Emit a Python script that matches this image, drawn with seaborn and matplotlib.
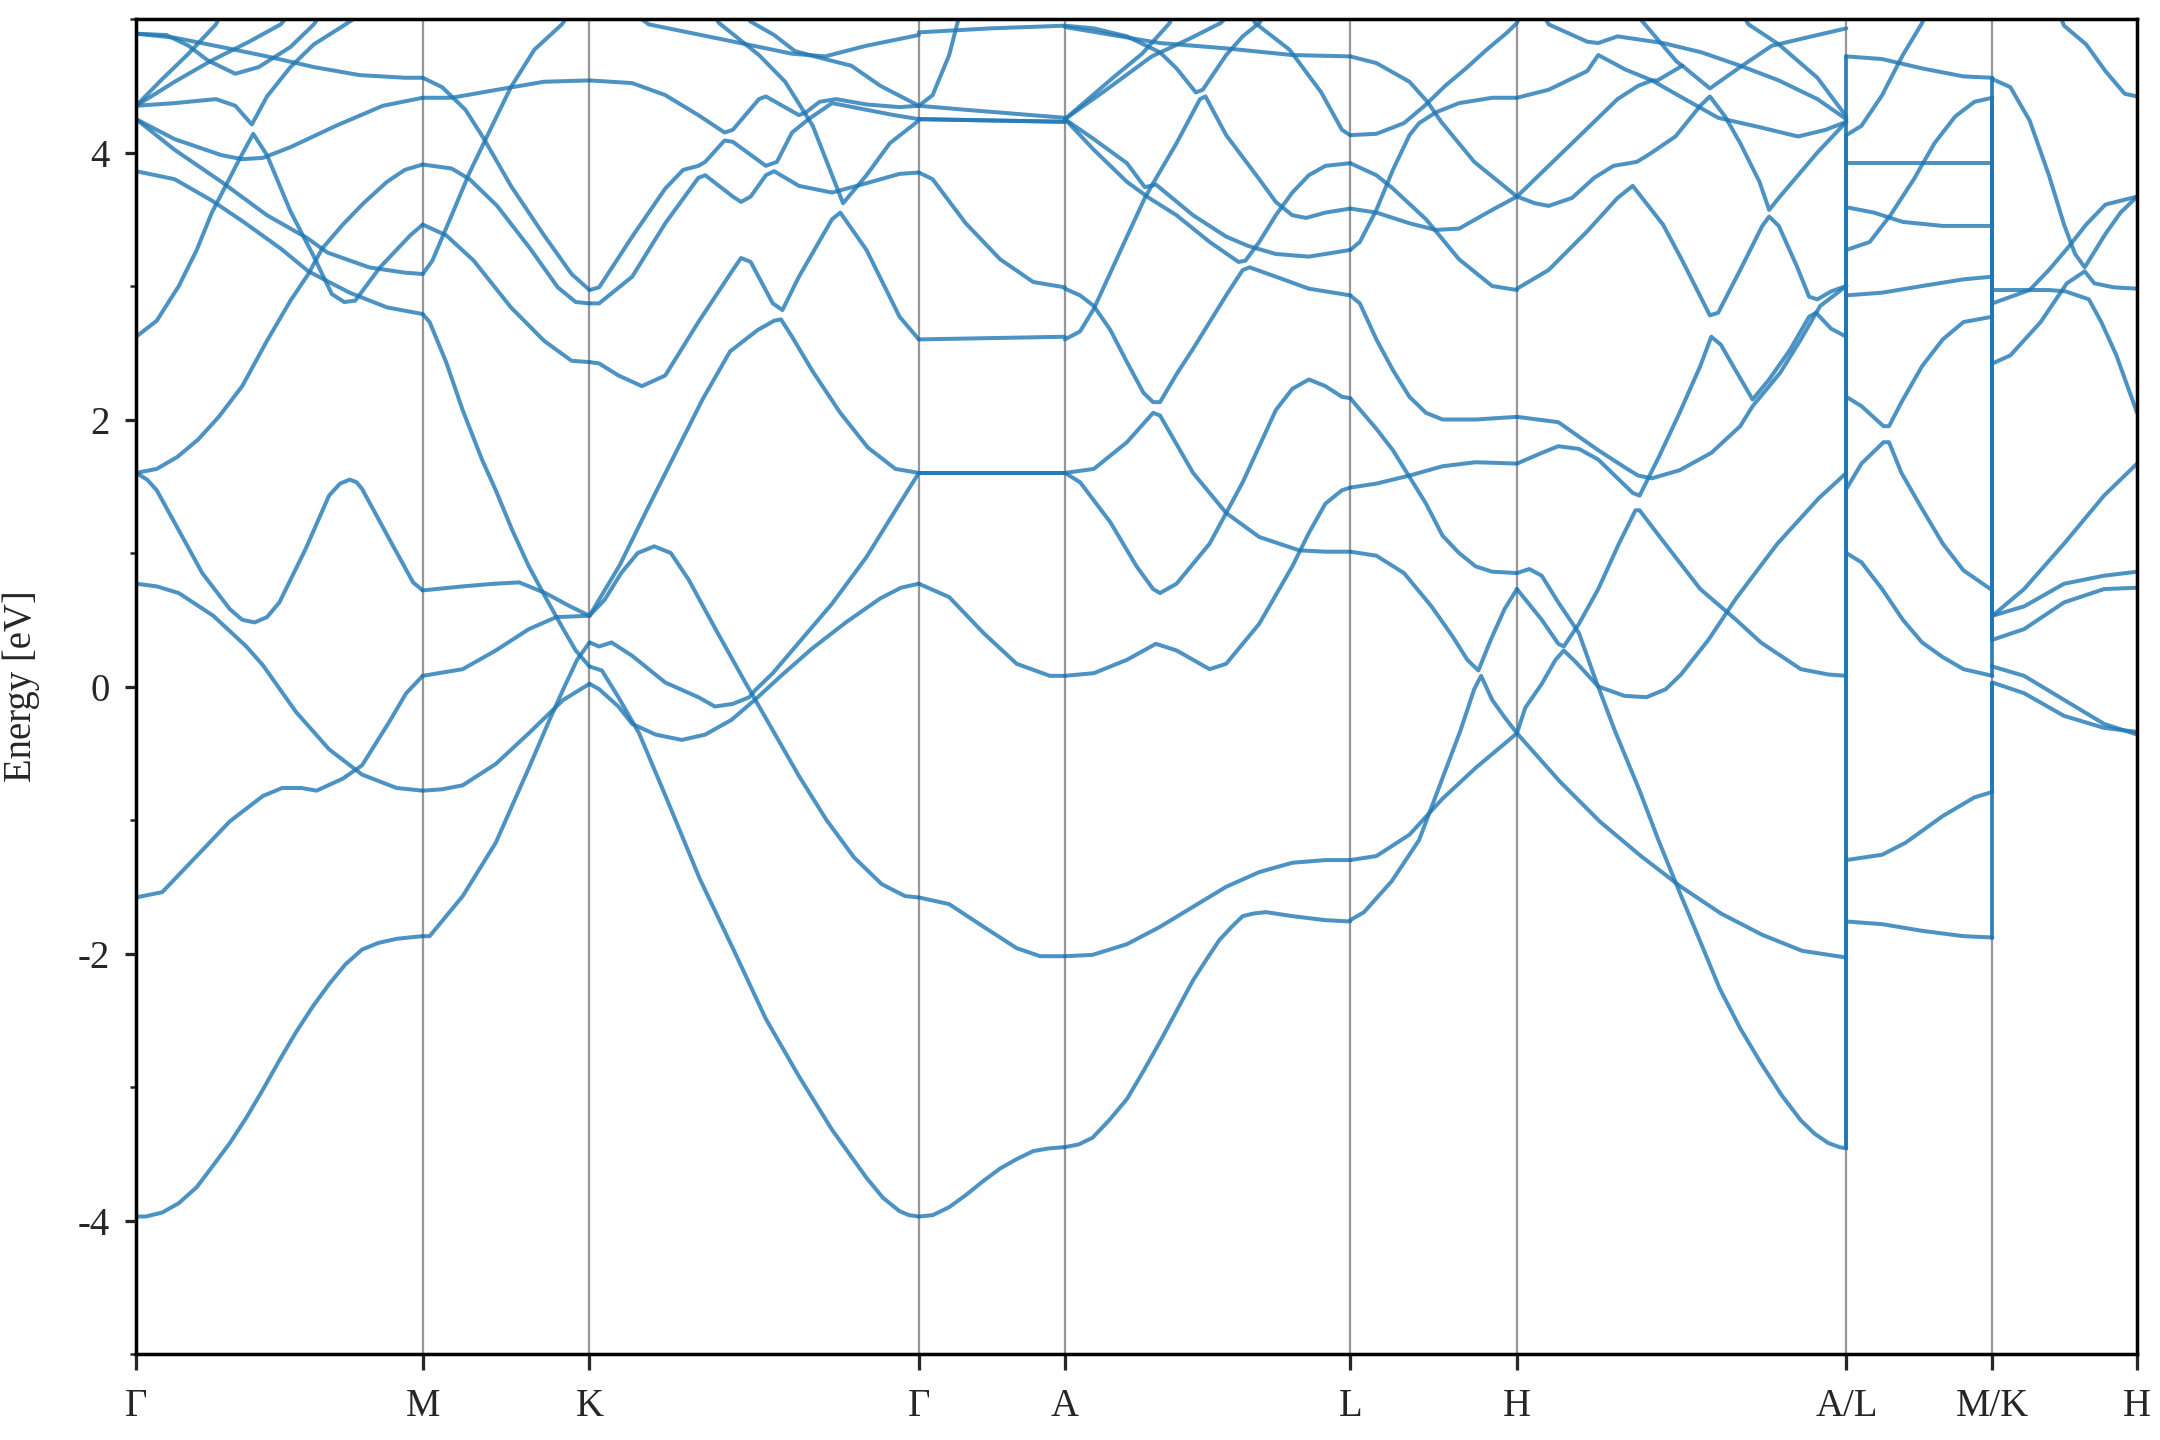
import matplotlib
matplotlib.use("Agg")
import matplotlib.pyplot as plt
import pandas as pd
import seaborn as sns
from matplotlib.ticker import MultipleLocator

sns.set_theme(style="ticks")
plt.rcParams["font.family"] = ["Liberation Serif", "DejaVu Serif"]
plt.rcParams["axes.unicode_minus"] = False

# high-symmetry points (cumulative path length) and their labels
kpath_pos = [0, 208, 329, 568, 674, 881, 1002, 1241, 1347, 1452]
kpath_labels = ["Γ", "M", "K", "Γ", "A", "L", "H", "A/L", "M/K", "H"]

# bands, one list of (k, E) knots per visible line, per segment
seg_GM = [
    [(0, -3.97), (7, -3.97), (19, -3.94), (31, -3.87), (44, -3.75), (55, -3.60), (68, -3.42), (80, -3.23), (92, -3.02), (104, -2.80), (116, -2.59), (128, -2.40), (140, -2.23), (152, -2.08), (164, -1.97), (176, -1.92), (189, -1.89), (198, -1.88), (208, -1.87)],
    [(0, -1.58), (19, -1.54), (44, -1.27), (68, -1.01), (92, -0.82), (106, -0.76), (120, -0.76), (131, -0.78), (150, -0.69), (164, -0.59), (184, -0.26), (196, -0.05), (208, 0.08)],
    [(0, 0.77), (15, 0.75), (31, 0.70), (56, 0.53), (80, 0.30), (92, 0.16), (116, -0.19), (140, -0.47), (164, -0.66), (189, -0.76), (208, -0.78)],
    [(0, 1.6), (8, 1.55), (15, 1.47), (31, 1.17), (48, 0.85), (68, 0.58), (77, 0.50), (86, 0.48), (95, 0.52), (104, 0.63), (123, 1.03), (140, 1.43), (148, 1.52), (155, 1.55), (160, 1.53), (164, 1.48), (184, 1.10), (201, 0.78), (208, 0.72)],
    [(0, 1.6), (15, 1.63), (30, 1.72), (45, 1.85), (60, 2.02), (77, 2.25), (95, 2.59), (112, 2.89), (125, 3.09), (135, 3.28), (150, 3.46), (165, 3.62), (182, 3.78), (195, 3.87), (208, 3.91)],
    [(0, 2.62), (15, 2.74), (31, 3.0), (44, 3.27), (55, 3.55), (75, 3.95), (85, 4.14), (95, 3.98), (112, 3.56), (129, 3.22), (142, 2.94), (151, 2.88), (159, 2.89), (177, 3.14), (199, 3.38), (208, 3.46)],
    [(0, 4.25), (28, 4.02), (62, 3.78), (95, 3.53), (124, 3.36), (139, 3.25), (169, 3.14), (195, 3.10), (208, 3.09)],
    [(0, 3.86), (28, 3.80), (55, 3.64), (78, 3.48), (105, 3.28), (125, 3.11), (155, 2.95), (182, 2.84), (208, 2.79)],
    [(0, 4.25), (28, 4.10), (62, 3.98), (77, 3.95), (92, 3.96), (112, 4.04), (145, 4.20), (179, 4.35), (208, 4.41)],
    [(0, 4.35), (28, 4.37), (58, 4.40), (72, 4.35), (84, 4.21), (95, 4.42), (112, 4.64), (129, 4.81), (152, 4.96), (165, 5.05)],
    [(0, 4.89), (28, 4.86), (62, 4.79), (95, 4.72), (129, 4.64), (162, 4.58), (195, 4.56), (208, 4.56)],
    [(0, 4.89), (22, 4.88), (38, 4.80), (52, 4.69), (72, 4.59), (89, 4.64), (112, 4.79), (129, 4.96), (135, 5.05)],
    [(0, 4.35), (18, 4.54), (38, 4.74), (58, 4.96), (62, 5.05)],
    [(0, 4.35), (28, 4.53), (55, 4.69), (82, 4.83), (105, 4.96), (112, 5.05)],
]

seg_MK = [
    [(208, -1.87), (213, -1.87), (237, -1.57), (261, -1.17), (285, -0.61), (300, -0.25), (310, -0.02), (320, 0.2), (329, 0.33)],
    [(208, -0.78), (222, -0.77), (237, -0.74), (261, -0.58), (285, -0.35), (310, -0.10), (329, 0.02)],
    [(208, 0.08), (237, 0.13), (261, 0.27), (285, 0.43), (305, 0.52), (329, 0.53)],
    [(208, 0.72), (237, 0.75), (260, 0.77), (278, 0.78), (297, 0.70), (315, 0.60), (329, 0.53)],
    [(208, 2.79), (213, 2.73), (225, 2.43), (237, 2.07), (251, 1.70), (261, 1.47), (273, 1.17), (285, 0.90), (297, 0.67), (310, 0.43), (319, 0.27), (329, 0.15)],
    [(208, 3.46), (225, 3.38), (245, 3.19), (272, 2.84), (296, 2.59), (316, 2.44), (329, 2.43)],
    [(208, 3.91), (229, 3.88), (242, 3.80), (262, 3.60), (286, 3.28), (306, 2.99), (319, 2.88), (329, 2.87)],
    [(208, 4.56), (222, 4.49), (239, 4.32), (252, 4.11), (272, 3.75), (296, 3.38), (316, 3.09), (329, 2.97)],
    [(208, 3.09), (215, 3.19), (229, 3.53), (242, 3.85), (256, 4.15), (272, 4.49), (289, 4.77), (309, 4.96), (315, 5.05)],
    [(208, 4.41), (229, 4.41), (262, 4.47), (296, 4.53), (329, 4.54)],
]

seg_KG = [
    [(329, 0.15), (338, 0.12), (350, -0.08), (365, -0.35), (385, -0.84), (409, -1.44), (433, -1.96), (457, -2.49), (481, -2.92), (505, -3.32), (530, -3.68), (542, -3.83), (554, -3.93), (561, -3.96), (568, -3.97)],
    [(329, 0.02), (336, -0.02), (350, -0.15), (360, -0.28), (377, -0.36), (396, -0.40), (413, -0.36), (432, -0.25), (449, -0.10), (468, 0.08), (490, 0.28), (515, 0.48), (540, 0.66), (555, 0.74), (568, 0.77)],
    [(329, 0.33), (336, 0.30), (345, 0.33), (360, 0.23), (384, 0.03), (408, -0.08), (420, -0.15), (433, -0.13), (445, -0.08), (449, -0.03), (462, 0.10), (481, 0.33), (505, 0.62), (530, 0.97), (554, 1.37), (568, 1.6)],
    [(329, 0.53), (340, 0.65), (352, 0.85), (364, 1.0), (376, 1.05), (388, 1.0), (401, 0.8), (421, 0.42), (441, 0.05), (461, -0.31), (481, -0.67), (501, -1.0), (521, -1.28), (541, -1.48), (558, -1.57), (568, -1.58)],
    [(329, 0.53), (351, 0.91), (371, 1.33), (391, 1.74), (411, 2.15), (431, 2.51), (451, 2.67), (463, 2.74), (468, 2.75), (476, 2.62), (491, 2.36), (511, 2.05), (531, 1.79), (551, 1.63), (568, 1.6)],
    [(329, 2.43), (336, 2.42), (350, 2.33), (367, 2.25), (384, 2.33), (408, 2.73), (433, 3.12), (439, 3.21), (446, 3.18), (462, 2.87), (469, 2.82), (481, 3.07), (505, 3.50), (511, 3.55), (530, 3.27), (554, 2.77), (568, 2.6)],
    [(329, 2.87), (336, 2.87), (360, 3.07), (384, 3.47), (408, 3.81), (413, 3.83), (433, 3.67), (439, 3.63), (446, 3.67), (457, 3.83), (463, 3.86), (481, 3.75), (505, 3.70), (530, 3.77), (554, 3.84), (568, 3.85)],
    [(329, 2.97), (336, 2.99), (360, 3.37), (384, 3.73), (397, 3.87), (408, 3.90), (413, 3.93), (427, 4.09), (433, 4.08), (457, 3.90), (465, 3.93), (476, 4.15), (488, 4.25), (505, 4.37), (530, 4.32), (550, 4.28), (568, 4.25)],
    [(329, 4.54), (360, 4.52), (384, 4.43), (408, 4.28), (427, 4.15), (433, 4.17), (452, 4.40), (457, 4.42), (481, 4.28), (486, 4.30), (496, 4.38), (508, 4.40), (530, 4.36), (554, 4.34), (568, 4.35)],
    [(418, 5.05), (423, 4.97), (452, 4.73), (471, 4.53), (491, 4.20), (513, 3.62), (530, 3.83), (547, 4.07), (568, 4.24)],
    [(360, 5.05), (372, 4.96), (429, 4.84), (476, 4.74), (500, 4.72), (530, 4.80), (568, 4.88)],
    [(440, 5.05), (446, 4.98), (463, 4.88), (478, 4.76), (496, 4.71), (519, 4.65), (540, 4.50), (568, 4.35)],
]

seg_GA = [
    [(568, -3.97), (578, -3.96), (590, -3.90), (602, -3.81), (614, -3.71), (627, -3.61), (639, -3.54), (651, -3.48), (662, -3.46), (674, -3.45)],
    [(568, -1.58), (590, -1.63), (615, -1.80), (639, -1.96), (656, -2.02), (674, -2.02)],
    [(568, 0.77), (590, 0.67), (615, 0.40), (639, 0.17), (663, 0.08), (674, 0.08)],
    [(568, 1.6), (674, 1.6)],
    [(568, 1.6), (674, 1.6)],
    [(568, 2.6), (674, 2.62)],
    [(568, 3.85), (578, 3.80), (602, 3.47), (627, 3.20), (651, 3.03), (674, 2.99)],
    [(568, 4.25), (674, 4.23)],
    [(568, 4.25), (674, 4.23)],
    [(568, 4.35), (602, 4.32), (674, 4.26)],
    [(568, 4.35), (578, 4.43), (590, 4.73), (596, 4.97), (598, 5.05)],
    [(568, 4.9), (620, 4.93), (674, 4.95)],
]

seg_AL = [
    [(674, -3.45), (684, -3.43), (694, -3.38), (706, -3.25), (719, -3.09), (731, -2.88), (743, -2.66), (755, -2.43), (767, -2.20), (777, -2.04), (786, -1.90), (795, -1.80), (803, -1.72), (811, -1.70), (820, -1.69), (839, -1.72), (863, -1.75), (881, -1.76)],
    [(674, -2.02), (694, -2.01), (719, -1.93), (743, -1.80), (767, -1.65), (791, -1.50), (815, -1.39), (839, -1.32), (863, -1.30), (881, -1.30)],
    [(674, 0.08), (695, 0.10), (719, 0.20), (740, 0.32), (755, 0.27), (779, 0.13), (791, 0.17), (815, 0.47), (839, 0.90), (851, 1.15), (863, 1.37), (875, 1.47), (881, 1.49)],
    [(674, 1.6), (695, 1.63), (719, 1.83), (738, 2.05), (743, 2.03), (767, 1.6), (791, 1.30), (815, 1.12), (844, 1.02), (863, 1.01), (881, 1.01)],
    [(674, 1.6), (685, 1.53), (707, 1.23), (726, 0.90), (738, 0.73), (743, 0.70), (755, 0.77), (779, 1.07), (803, 1.53), (827, 2.07), (839, 2.23), (851, 2.30), (863, 2.25), (875, 2.17), (881, 2.16)],
    [(674, 2.6), (685, 2.66), (695, 2.83), (707, 3.1), (719, 3.37), (732, 3.66), (738, 3.77), (755, 4.07), (772, 4.40), (776, 4.42), (791, 4.13), (815, 3.80), (827, 3.63), (839, 3.53), (849, 3.51), (863, 3.55), (881, 3.58)],
    [(674, 2.98), (685, 2.93), (695, 2.85), (707, 2.67), (719, 2.43), (731, 2.20), (738, 2.13), (743, 2.13), (755, 2.34), (767, 2.53), (779, 2.73), (791, 2.93), (803, 3.12), (808, 3.14), (827, 3.07), (851, 2.98), (881, 2.93)],
    [(674, 4.25), (695, 4.10), (719, 3.92), (732, 3.74), (740, 3.76), (767, 3.53), (791, 3.37), (807, 3.30), (827, 3.24), (851, 3.22), (881, 3.27)],
    [(674, 4.25), (695, 4.02), (719, 3.78), (735, 3.66), (755, 3.53), (779, 3.33), (800, 3.18), (805, 3.19), (815, 3.33), (827, 3.53), (839, 3.70), (851, 3.83), (863, 3.90), (881, 3.92)],
    [(674, 4.95), (695, 4.93), (719, 4.87), (743, 4.75), (755, 4.63), (769, 4.45), (774, 4.47), (791, 4.73), (803, 4.87), (815, 4.97), (820, 5.05)],
    [(674, 4.94), (743, 4.82), (791, 4.78), (839, 4.73), (881, 4.72)],
    [(808, 5.05), (812, 4.97), (837, 4.77), (860, 4.45), (875, 4.17), (881, 4.13)],
    [(674, 4.25), (692, 4.41), (710, 4.57), (730, 4.74), (750, 4.97), (753, 5.05)],
    [(674, 4.25), (704, 4.47), (737, 4.72), (764, 4.85), (787, 4.97), (795, 5.05)],
]

seg_LH = [
    [(881, -1.75), (891, -1.69), (911, -1.46), (931, -1.15), (946, -0.74), (961, -0.33), (971, -0.02), (976, 0.08), (984, -0.10), (993, -0.23), (1002, -0.35)],
    [(881, -1.30), (900, -1.27), (924, -1.11), (948, -0.84), (972, -0.61), (1002, -0.35)],
    [(881, 1.01), (900, 0.98), (920, 0.85), (940, 0.60), (955, 0.38), (966, 0.20), (974, 0.12), (983, 0.35), (993, 0.58), (1002, 0.73)],
    [(881, 2.16), (900, 1.93), (912, 1.77), (924, 1.57), (936, 1.37), (948, 1.13), (960, 1.0), (972, 0.90), (984, 0.86), (1002, 0.85)],
    [(881, 1.49), (900, 1.52), (924, 1.58), (948, 1.65), (972, 1.68), (1002, 1.67)],
    [(881, 2.93), (888, 2.87), (900, 2.60), (912, 2.37), (924, 2.17), (936, 2.05), (948, 2.00), (972, 2.00), (1002, 2.02)],
    [(881, 3.27), (888, 3.33), (900, 3.57), (912, 3.87), (924, 4.13), (931, 4.22), (943, 4.30), (960, 4.37), (984, 4.41), (1002, 4.41)],
    [(881, 3.58), (900, 3.55), (924, 3.47), (943, 3.42), (960, 3.43), (984, 3.57), (1002, 3.67)],
    [(881, 3.92), (900, 3.83), (912, 3.73), (936, 3.50), (960, 3.20), (984, 3.0), (1002, 2.97)],
    [(881, 4.13), (900, 4.14), (920, 4.22), (935, 4.35), (950, 4.50), (965, 4.63), (980, 4.77), (995, 4.90), (1002, 4.97), (1005, 5.05)],
    [(881, 4.72), (900, 4.67), (924, 4.53), (937, 4.38), (947, 4.23), (971, 3.93), (1002, 3.67)],
]

seg_HA = [
    [(1002, 0.85), (1011, 0.88), (1020, 0.83), (1032, 0.63), (1047, 0.40), (1058, 0.08), (1073, -0.33), (1091, -0.78), (1105, -1.16), (1120, -1.54), (1135, -1.91), (1149, -2.26), (1164, -2.56), (1179, -2.82), (1194, -3.06), (1208, -3.25), (1218, -3.35), (1228, -3.42), (1236, -3.45), (1241, -3.46)],
    [(1002, -0.35), (1033, -0.71), (1062, -1.01), (1092, -1.27), (1121, -1.50), (1150, -1.70), (1180, -1.86), (1209, -1.98), (1241, -2.03)],
    [(1002, -0.35), (1008, -0.16), (1020, 0.02), (1030, 0.20), (1036, 0.27), (1045, 0.18), (1061, 0.0), (1080, -0.07), (1096, -0.08), (1110, -0.02), (1121, 0.09), (1141, 0.35), (1161, 0.66), (1191, 1.07), (1221, 1.41), (1241, 1.6)],
    [(1002, 0.73), (1020, 0.50), (1032, 0.32), (1036, 0.30), (1047, 0.47), (1061, 0.73), (1076, 1.07), (1088, 1.32), (1091, 1.32), (1105, 1.13), (1135, 0.73), (1161, 0.50), (1179, 0.33), (1208, 0.13), (1228, 0.09), (1241, 0.08)],
    [(1002, 1.67), (1020, 1.75), (1032, 1.80), (1047, 1.78), (1061, 1.70), (1076, 1.55), (1086, 1.45), (1091, 1.43), (1105, 1.72), (1120, 2.05), (1135, 2.40), (1143, 2.62), (1150, 2.56), (1160, 2.38), (1173, 2.15), (1185, 2.30), (1200, 2.52), (1214, 2.77), (1219, 2.80), (1230, 2.68), (1241, 2.62)],
    [(1002, 2.02), (1032, 1.98), (1061, 1.77), (1082, 1.63), (1090, 1.58), (1100, 1.56), (1120, 1.62), (1143, 1.75), (1164, 1.95), (1173, 2.10), (1193, 2.35), (1208, 2.60), (1222, 2.85), (1241, 3.0)],
    [(1002, 2.98), (1025, 3.12), (1053, 3.41), (1075, 3.66), (1086, 3.75), (1108, 3.46), (1122, 3.19), (1142, 2.78), (1148, 2.80), (1164, 3.12), (1180, 3.45), (1185, 3.52), (1192, 3.45), (1205, 3.15), (1214, 2.92), (1220, 2.90), (1230, 2.96), (1241, 3.0)],
    [(1002, 3.67), (1015, 3.62), (1025, 3.60), (1042, 3.66), (1058, 3.81), (1072, 3.90), (1089, 3.93), (1097, 3.98), (1117, 4.12), (1135, 4.35), (1142, 4.42), (1153, 4.27), (1164, 4.07), (1178, 3.78), (1185, 3.57), (1192, 3.66), (1206, 3.83), (1220, 4.0), (1241, 4.23)],
    [(1002, 3.67), (1015, 3.80), (1032, 3.97), (1053, 4.18), (1075, 4.40), (1090, 4.50), (1100, 4.54), (1117, 4.44), (1148, 4.26), (1178, 4.19), (1206, 4.12), (1226, 4.17), (1241, 4.23)],
    [(1002, 4.41), (1025, 4.47), (1053, 4.61), (1061, 4.73), (1081, 4.62), (1100, 4.54), (1104, 4.54), (1122, 4.65), (1142, 4.48), (1164, 4.64), (1187, 4.80), (1220, 4.88), (1241, 4.93)],
    [(1020, 5.05), (1025, 4.96), (1053, 4.83), (1061, 4.82), (1075, 4.87), (1108, 4.82), (1136, 4.75), (1164, 4.65), (1192, 4.54), (1220, 4.40), (1241, 4.25)],
    [(1165, 5.05), (1170, 4.96), (1192, 4.81), (1220, 4.56), (1241, 4.27)],
    [(1088, 5.05), (1094, 4.97), (1108, 4.80), (1118, 4.68), (1122, 4.65)],
]

seg_LM = [
    [(1241, -1.76), (1267, -1.78), (1296, -1.83), (1326, -1.87), (1347, -1.88)],
    [(1241, -1.30), (1267, -1.26), (1284, -1.17), (1311, -0.97), (1334, -0.83), (1347, -0.79)],
    [(1241, 1.0), (1252, 0.93), (1267, 0.73), (1282, 0.50), (1296, 0.33), (1311, 0.22), (1326, 0.13), (1347, 0.08)],
    [(1241, 1.48), (1252, 1.67), (1268, 1.83), (1272, 1.83), (1281, 1.60), (1296, 1.33), (1311, 1.07), (1326, 0.87), (1347, 0.72)],
    [(1241, 2.17), (1252, 2.10), (1268, 1.95), (1272, 1.95), (1281, 2.13), (1296, 2.40), (1311, 2.60), (1326, 2.73), (1347, 2.77)],
    [(1241, 2.93), (1267, 2.95), (1296, 3.0), (1326, 3.05), (1347, 3.07)],
    [(1241, 3.27), (1258, 3.33), (1273, 3.53), (1290, 3.80), (1305, 4.07), (1320, 4.27), (1334, 4.38), (1347, 4.41)],
    [(1241, 3.59), (1261, 3.55), (1282, 3.48), (1311, 3.45), (1347, 3.45)],
    [(1241, 3.92), (1347, 3.92)],
    [(1241, 4.13), (1252, 4.20), (1267, 4.43), (1282, 4.73), (1296, 4.97), (1299, 5.05)],
    [(1241, 4.72), (1267, 4.70), (1296, 4.63), (1326, 4.57), (1347, 4.56)],
]

seg_KH = [
    [(1347, 0.03), (1370, -0.05), (1399, -0.22), (1428, -0.31), (1452, -0.34)],
    [(1347, 0.15), (1370, 0.08), (1399, -0.10), (1428, -0.28), (1452, -0.36)],
    [(1347, 0.35), (1370, 0.43), (1399, 0.63), (1428, 0.73), (1452, 0.74)],
    [(1347, 0.53), (1370, 0.60), (1399, 0.77), (1428, 0.83), (1452, 0.86)],
    [(1347, 0.53), (1370, 0.73), (1399, 1.07), (1428, 1.43), (1445, 1.60), (1452, 1.67)],
    [(1347, 2.42), (1360, 2.48), (1382, 2.73), (1401, 3.02), (1414, 3.11), (1421, 3.02), (1435, 2.99), (1452, 2.98)],
    [(1347, 2.87), (1374, 2.97), (1388, 3.12), (1402, 3.29), (1415, 3.46), (1429, 3.61), (1452, 3.67)],
    [(1347, 2.97), (1388, 2.97), (1400, 2.96), (1417, 2.90), (1426, 2.73), (1437, 2.48), (1445, 2.25), (1452, 2.05)],
    [(1347, 4.55), (1360, 4.49), (1374, 4.24), (1388, 3.83), (1399, 3.46), (1407, 3.24), (1414, 3.14), (1429, 3.39), (1440, 3.55), (1452, 3.67)],
    [(1395, 5.05), (1399, 4.95), (1415, 4.81), (1429, 4.61), (1443, 4.44), (1452, 4.42)],
]


def junction(left, right, k0, mult_left=1, mult_right=1):
    """Join band i on one side of a path break to band i on the other (sorted order)."""
    lo = sorted([c[-1][1] for c in left if c[-1][0] == k0] * mult_left)
    hi = sorted([c[0][1] for c in right if c[0][0] == k0] * mult_right)
    return [[(k0, a), (k0, b)] for a, b in zip(lo, hi)]


# H-A and K-H lines each carry a pair of bands, so they count twice at the breaks
jumps = (junction(seg_HA, seg_LM, kpath_pos[7], mult_left=2)
         + junction(seg_LM, seg_KH, kpath_pos[8], mult_right=2))

curves = seg_GM + seg_MK + seg_KG + seg_GA + seg_AL + seg_LH + seg_HA + seg_LM + seg_KH + jumps
rows = [(i, k, e) for i, c in enumerate(curves) for k, e in c]
df = pd.DataFrame(rows, columns=["band", "k", "E"])

fig = plt.figure(figsize=(12, 8), dpi=180)
ax = fig.add_axes([0.063, 0.0597, 0.9264, 0.9271])

for x in kpath_pos[1:-1]:
    ax.axvline(x, color="k", lw=0.9, alpha=0.45, zorder=0.5)

sns.lineplot(data=df, x="k", y="E", units="band", estimator=None, sort=False,
             color="#1f77b4", lw=1.6, alpha=0.8, legend=False, ax=ax, zorder=2)

ax.set_xlim(kpath_pos[0], kpath_pos[-1])
ax.set_ylim(-5, 5)
ax.set_xticks(kpath_pos)
ax.set_xticklabels(kpath_labels)
ax.set_yticks([-4, -2, 0, 2, 4])
ax.yaxis.set_minor_locator(MultipleLocator(1))
ax.set_xlabel("")
ax.set_ylabel("Energy [eV]", fontsize=15.5)
ax.yaxis.set_label_coords(-0.048, 0.5)

ax.tick_params(axis="x", direction="out", length=6.5, width=1.3, pad=7, labelsize=15.5)
ax.tick_params(axis="y", which="major", direction="out", length=4.5, width=1.3, pad=6, labelsize=15.5)
ax.tick_params(axis="y", which="minor", direction="out", length=2.5, width=1.0)
for s in ax.spines.values():
    s.set_linewidth(1.4)
    s.set_color("black")
    s.set_visible(True)

fig.savefig("out.png", dpi=180)
